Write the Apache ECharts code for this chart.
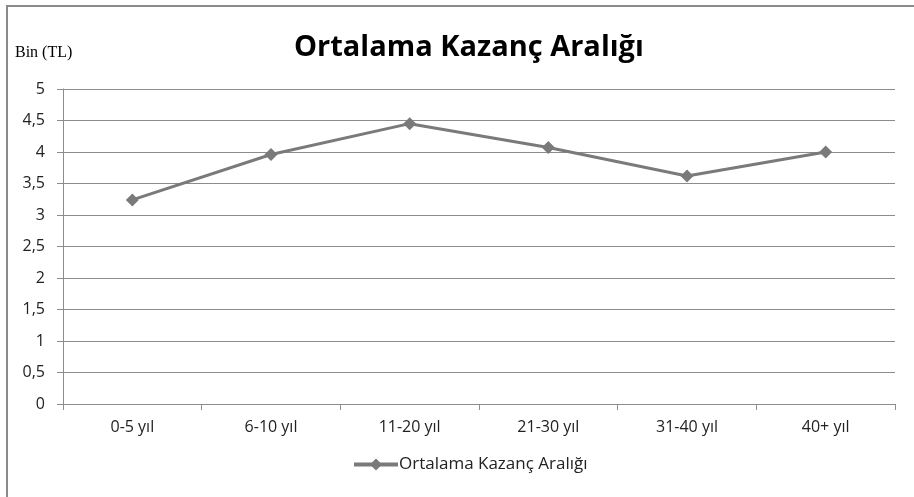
<!DOCTYPE html>
<html>
<head>
<meta charset="utf-8">
<script src="https://cdn.jsdelivr.net/npm/echarts@6/dist/echarts.min.js"></script>
<style>
  html, body { margin: 0; padding: 0; background: #fff; }
  #chart { width: 914px; height: 497px; }
</style>
</head>
<body>
<div id="chart"></div>
<script>
// kategoriler ve değerler (bin TL)
const categories = ["0-5 yıl", "6-10 yıl", "11-20 yıl", "21-30 yıl", "31-40 yıl", "40+ yıl"];
const kazanc = [3.24, 3.96, 4.45, 4.07, 3.62, 4.0];
const seriesName = "Ortalama Kazanç Aralığı";

const chart = echarts.init(document.getElementById("chart"));
chart.setOption({
  animation: false,
  title: {
    text: "Ortalama Kazanç Aralığı",
    left: 289,
    top: 28,
    textStyle: { fontFamily: "Open Sans", fontWeight: "bold", fontSize: 29, color: "#000" }
  },
  graphic: [
    {
      type: "rect",
      shape: { x: 7, y: 6, width: 1000, height: 1000 },
      style: { fill: "none", stroke: "#8a8a8a", lineWidth: 2 }
    },
    {
      type: "text",
      left: 15,
      top: 45,
      style: { text: "Bin (TL)", font: "16px 'Liberation Serif'", fill: "#000" }
    }
  ],
  legend: {
    bottom: 19,
    left: 347,
    itemWidth: 44,
    itemHeight: 15,
    itemGap: 0,
    lineStyle: { width: 4 },
    textStyle: { fontFamily: "Open Sans", fontSize: 17, color: "#222", padding: [0, 0, 0, -4] },
    data: [seriesName]
  },
  grid: { left: 63, right: 19, top: 89, bottom: 93, containLabel: false },
  xAxis: {
    type: "category",
    data: categories,
    boundaryGap: true,
    axisLine: { lineStyle: { color: "#8c8c8c", width: 1 } },
    axisTick: { show: true, length: 6, interval: 0, lineStyle: { color: "#8c8c8c" } },
    axisLabel: { margin: 15, fontFamily: "Open Sans", fontSize: 16, color: "#222", interval: 0 }
  },
  yAxis: {
    type: "value",
    min: 0,
    max: 5,
    interval: 0.5,
    axisLine: { show: true, lineStyle: { color: "#8c8c8c", width: 1 } },
    axisTick: { show: true, length: 6, lineStyle: { color: "#8c8c8c" } },
    splitLine: { lineStyle: { color: "#8c8c8c", width: 1 } },
    axisLabel: {
      margin: 18,
      fontFamily: "Open Sans",
      fontSize: 16,
      color: "#222",
      formatter: (v) => String(v).replace(".", ",")
    }
  },
  series: [
    {
      name: seriesName,
      type: "line",
      data: kazanc,
      symbol: "diamond",
      symbolSize: 13,
      lineStyle: { color: "#7a7a7a", width: 3 },
      itemStyle: { color: "#7a7a7a" }
    }
  ]
});
</script>
</body>
</html>
